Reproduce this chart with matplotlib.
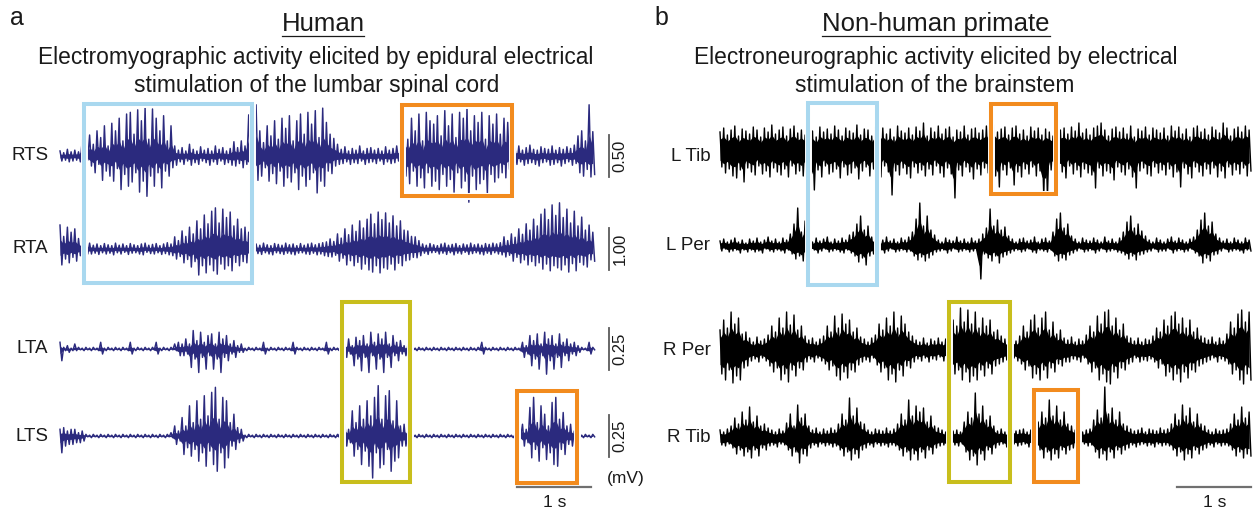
import numpy as np
import matplotlib
matplotlib.use("Agg")
import matplotlib.pyplot as plt
import matplotlib.patheffects as pe
from matplotlib.patches import Rectangle
from matplotlib.lines import Line2D

plt.rcParams['font.family'] = ['Liberation Sans', 'DejaVu Sans']
plt.rcParams['text.color'] = '#1a1a1a'

W, H = 1253, 512
DT = 0.05  # s between samples

# ---------------- a: human EMG (mV), one up/down pair per sample ----------------
rts_up = [.06, .04, .08, .05, .07, .05, .19, .05,
          .25, .14, .30, .22, .36, .12, .39, .30, .45, .18, .50, .52, .26, .55, .42, .58, .20, .56, .45, .30, .48, .18, .36,
          .12, .07, .10, .06, .14, .08, .06, .11, .07, .09, .06, .12, .08, .10, .06, .09,
          .17, .10, .18, .12, .49, .06, .61,
          .30, .16, .36, .24, .42, .20, .45, .33, .48, .18, .42, .50, .26, .52, .38, .54, .22, .57, .40, .26, .21, .14,
          .08, .11, .06, .09, .07, .12, .06, .09, .10, .07, .09, .06, .11, .07, .09, .12, .07,
          .36, .20, .45, .30, .50, .18, .52, .42, .38, .48, .24, .54, .36, .50, .22, .52, .45, .57, .30, .48, .40, .52, .20, .48, .38, .50, .26, .45, .40, .24,
          .09, .12, .07, .10, .13, .08, .07, .11, .09, .08, .12, .07, .10, .08, .11, .09, .13,
          .24, .30, .18, .61, .29]
rts_dn = [.06, .05, .07, .06, .05, .07, .10, .05,
          .12, .20, .10, .29, .18, .24, .30, .15, .40, .22, .36, .31, .20, .43, .30, .48, .24, .36, .20, .38, .18, .24, .14,
          .11, .07, .10, .06, .11, .08, .10, .06, .08, .11, .07, .10, .06, .10, .08, .11,
          .12, .09, .14, .10, .19, .06, .29,
          .24, .14, .30, .21, .33, .18, .36, .26, .31, .20, .40, .24, .36, .28, .20, .44, .30, .36, .18, .21, .12, .10,
          .09, .07, .10, .08, .09, .06, .10, .08, .07, .09, .06, .10, .07, .09, .08, .06, .09,
          .24, .33, .18, .36, .26, .38, .20, .36, .30, .40, .22, .36, .28, .43, .20, .38, .30, .55, .24, .40, .33, .28, .44, .22, .31, .26, .20, .26, .16, .12,
          .10, .07, .11, .09, .08, .10, .12, .08, .07, .11, .10, .08, .12, .09, .07, .11, .09,
          .20, .24, .16, .25, .22]

rta_up = [.57, .30, .52, .40, .48, .25, .20, .12,
          .14, .09, .12, .08, .13, .10, .08, .14, .09, .12, .08, .13, .10, .08, .12, .14, .09, .11, .13, .08, .12, .15, .12,
          .29, .20, .43, .30, .52, .36, .67, .48, .81, .60, .90, .98, .62, .95, .75, .88, .55, .71, .48, .52, .40,
          .12,
          .12, .09, .14, .10, .08, .13, .11, .09, .14, .10, .12, .08, .13, .09, .12, .14, .10, .13, .15, .17,
          .24, .18, .36, .26, .48, .34, .57, .42, .67, .50, .71, .83, .60, .88, .70, .86, .62, .79, .55, .67, .45, .43, .30, .29, .20,
          .12, .09, .13, .10, .08, .12, .14, .09, .11, .13, .08, .12, .10, .14, .10, .12, .09, .13, .11, .14, .12, .15,
          .29, .20, .36, .28, .48, .35, .60, .45, .71, .55, .83, .95, .70, 1.05, .80, 1.10, .75, .95, .62, .90, .55, .76, .45, .57, .40]
rta_dn = [.38, .24, .33, .20, .29, .16, .14, .12,
          .12, .10, .13, .09, .12, .10, .14, .09, .12, .08, .13, .10, .09, .12, .14, .08, .11, .12, .09, .13, .11, .14, .16,
          .24, .18, .33, .25, .43, .30, .62, .40, .57, .38, .52, .60, .36, .48, .40, .52, .32, .40, .30, .33, .22,
          .12,
          .11, .13, .09, .12, .14, .09, .11, .13, .10, .12, .14, .10, .09, .12, .13, .10, .14, .12, .16, .18,
          .19, .15, .29, .22, .38, .28, .40, .32, .48, .36, .50, .55, .40, .57, .45, .48, .36, .50, .34, .40, .28, .26, .20, .21, .16,
          .10, .13, .09, .08, .12, .10, .13, .09, .14, .10, .12, .08, .13, .11, .09, .12, .14, .10, .13, .09, .12, .14,
          .19, .15, .29, .20, .33, .26, .38, .30, .40, .33, .48, .36, .52, .40, .45, .50, .38, .55, .35, .52, .32, .38, .43, .26, .29]

lta_up = [.04, .01, .02, .005, .03, .01, .005, .01, .005, .01, .005, .04, .005, .01, .005, .01, .005, .01, .005, .04, .005, .01, .005, .01, .005, .01, .04, .005, .01, .005, .01, .03, .04,
          .03, .06, .03, .11, .05, .10, .04, .08, .09, .03, .10, .06, .08, .03, .05, .02, .03,
          .005, .01, .005, .01, .005, .04, .005, .01, .005, .01, .005, .01, .005, .04, .01, .005, .01, .005, .01, .005, .01, .005, .04, .005, .01, .005, .06,
          .03, .06, .02, .07, .05, .08, .03, .10, .04, .09, .06, .10, .03, .08, .04, .05, .02, .02,
          .01, .005, .01, .005, .01, .005, .01, .005, .01, .005, .01, .005, .01, .005, .01, .005, .01, .005, .01, .04, .01, .005, .01, .005, .01, .005, .01, .005, .01, .005,
          .04, .02, .08, .05, .09, .03, .10, .06, .08, .03, .09, .04, .06, .03, .04, .02,
          .01, .005, .04, .01]
lta_dn = [.07, .01, .02, .01, .01, .005, .01, .005, .01, .005, .01, .03, .01, .005, .01, .005, .01, .005, .01, .03, .01, .005, .01, .005, .01, .005, .03, .01, .005, .01, .005, .01, .04,
          .04, .03, .11, .06, .14, .05, .12, .04, .12, .06, .14, .05, .07, .03, .05, .02, .02,
          .01, .005, .01, .005, .01, .03, .01, .005, .01, .005, .01, .005, .01, .03, .005, .01, .005, .01, .005, .01, .005, .01, .03, .01, .005, .01, .05,
          .05, .03, .10, .06, .13, .05, .14, .04, .12, .06, .14, .05, .11, .04, .07, .03, .04, .02,
          .005, .01, .005, .01, .005, .01, .005, .01, .005, .01, .005, .01, .005, .01, .005, .01, .005, .01, .005, .03, .005, .01, .005, .01, .005, .01, .005, .01, .005, .01,
          .05, .03, .10, .06, .12, .04, .15, .07, .12, .05, .11, .04, .07, .03, .04, .02,
          .005, .01, .03, .005]

lts_up = [.04, .05, .03, .04, .04, .02, .03,
          .01, .005, .01, .005, .01, .005, .01, .005, .01, .005, .01, .005, .01, .005, .01, .005, .01, .005, .01, .005, .01, .005, .01, .02,
          .06, .03, .11, .06, .18, .08, .21, .10, .24, .12, .26, .29, .10, .23, .21, .08, .13, .05, .04,
          .005, .01, .005, .01, .005, .01, .005, .01, .005, .01, .005, .01, .005, .01, .005, .01, .005, .01, .005, .01, .005, .01, .005, .01, .005, .01,
          .11,
          .07, .04, .15, .08, .18, .10, .21, .12, .23, .30, .10, .24, .27, .09, .21, .06, .07, .03,
          .01, .005, .01, .005, .01, .005, .01, .005, .01, .005, .01, .005, .01, .005, .01, .005, .01, .005, .01, .005, .01, .005, .01, .005, .01, .005, .01, .005, .01, .02,
          .07, .04, .17, .23, .08, .18, .13, .06, .20, .23, .10, .14, .06, .07, .03,
          .01, .005, .01, .005, .01]
lts_dn = [.10, .06, .05, .05, .04, .04, .03,
          .005, .01, .005, .01, .005, .01, .005, .01, .005, .01, .005, .01, .005, .01, .005, .01, .005, .01, .005, .01, .005, .01, .005, .01,
          .05, .03, .11, .07, .12, .08, .15, .10, .18, .09, .17, .21, .10, .19, .13, .06, .08, .04, .03,
          .01, .005, .01, .005, .01, .005, .01, .005, .01, .005, .01, .005, .01, .005, .01, .005, .01, .005, .01, .005, .01, .005, .01, .005, .01, .005,
          .05,
          .06, .04, .12, .08, .17, .09, .18, .25, .10, .19, .17, .08, .21, .15, .13, .06, .06, .03,
          .005, .01, .005, .01, .005, .01, .005, .01, .005, .01, .005, .01, .005, .01, .005, .01, .005, .01, .005, .01, .005, .01, .005, .01, .005, .01, .005, .01, .005, .01,
          .06, .04, .13, .08, .15, .07, .14, .10, .17, .18, .08, .11, .05, .06, .03,
          .005, .01, .005, .01, .005]

human_names = ['RTS', 'RTA', 'LTA', 'LTS']
human_bars = [0.50, 1.00, 0.25, 0.25]   # mV per scale bar
human_up = [rts_up, rta_up, lta_up, lts_up]
human_dn = [rts_dn, rta_dn, lta_dn, lts_dn]

# ---------------- b: non-human primate ENG (a.u.) ----------------
ltib_up = [18, 22, 15, 20, 24, 14, 21, 19, 16, 23, 20, 13, 22, 18, 25, 16, 20, 23, 14, 21,
           24, 17, 20, 15, 22, 19, 13, 23, 18, 21, 16, 24, 20, 14, 22, 19, 17, 25, 15, 21,
           20, 14, 23, 18, 22, 16, 21, 13, 24, 19, 17, 22, 15, 23, 19, 27, 14, 22, 18, 24,
           16, 21, 23, 13, 20, 18, 24, 15, 21, 22, 17, 20, 24, 14, 25, 18, 21, 23, 15, 22,
           24, 16, 20, 14, 23, 19, 22, 15, 21, 18, 14, 24, 20, 22, 16, 23, 19, 27, 17, 21,
           15, 22, 24, 27, 20, 14, 21, 23, 18, 22, 16, 24, 13, 21, 19, 23, 15, 22, 20, 17,
           22, 14, 24, 19, 23, 16, 21, 13, 22, 24, 18, 21, 15, 23, 20, 17, 27, 22, 14, 21,
           23, 18, 24, 20]
ltib_dn = [17, 23, 19, 26, 28, 20, 32, 18, 22, 25, 16, 24, 21, 27, 18, 22, 25, 19, 27, 16,
           24, 21, 26, 18, 23, 40, 20, 27, 16, 24, 22, 19, 28, 17, 25, 23, 18, 29, 21, 17,
           26, 19, 24, 27, 16, 22, 45, 21, 25, 18, 24, 28, 17, 23, 20, 26, 19, 25, 16, 23,
           27, 18, 24, 48, 20, 26, 17, 22, 29, 19, 25, 18, 23, 16, 26, 37, 20, 25, 18, 35,
           22, 27, 19, 24, 17, 26, 21, 45, 47, 20, 18, 25, 22, 28, 16, 24, 20, 27, 19, 23,
           25, 38, 18, 26, 21, 23, 30, 17, 22, 25, 19, 27, 38, 21, 18, 24, 26, 17, 23, 20,
           25, 19, 27, 22, 37, 18, 24, 28, 17, 22, 26, 19, 24, 18, 27, 21, 28, 17, 25, 20,
           24, 18, 26, 21]

lper_up = [5, 7, 4, 6, 8, 4, 6, 3, 7, 5, 8, 4, 6, 9, 5, 7, 4, 8, 6, 12,
           22, 38, 14, 25, 6, 4, 8, 5, 7, 9, 4, 7, 5, 8, 6, 11, 14, 22, 30, 16,
           20, 9, 7, 4, 6, 9, 5, 7, 4, 8, 6, 9, 14, 27, 43, 20, 30, 16, 11, 6,
           4, 8, 6, 5, 9, 5, 7, 4, 8, 5, 7, 12, 18, 37, 20, 26, 16, 19, 10, 7,
           4, 7, 8, 5, 6, 9, 4, 7, 8, 5, 14, 27, 33, 18, 22, 10, 7, 4, 8, 6,
           5, 8, 6, 4, 9, 5, 7, 4, 8, 14, 24, 30, 18, 22, 15, 10, 6, 4, 8, 6,
           4, 7, 9, 5, 8, 6, 4, 7, 9, 16, 26, 33, 20, 24, 12, 8, 5, 7, 4, 8,
           6, 4, 8, 6]
lper_dn = [5, 3, 6, 5, 4, 7, 4, 6, 4, 6, 5, 7, 3, 5, 6, 4, 5, 7, 4, 8,
           13, 10, 15, 8, 5, 4, 7, 5, 3, 6, 5, 4, 6, 7, 4, 7, 10, 16, 12, 19,
           10, 8, 5, 4, 7, 5, 3, 6, 5, 4, 6, 5, 10, 14, 11, 15, 12, 9, 6, 5,
           4, 7, 5, 3, 6, 5, 4, 6, 5, 4, 33, 8, 12, 15, 10, 17, 11, 9, 7, 5,
           4, 6, 5, 3, 6, 7, 4, 5, 6, 4, 10, 15, 12, 14, 9, 7, 5, 3, 6, 5,
           4, 7, 5, 3, 6, 5, 4, 6, 7, 9, 13, 10, 14, 9, 8, 6, 5, 3, 6, 5,
           5, 3, 7, 5, 4, 6, 5, 3, 7, 10, 17, 12, 15, 9, 8, 5, 3, 6, 5, 4,
           5, 7, 4, 5]

rper_up = [20, 30, 22, 38, 26, 32, 16, 18, 12, 8, 13, 9, 11,
           15, 24, 18, 32, 22, 38, 25, 35, 20, 24, 14, 10, 12, 8, 11,
           14, 24, 18, 34, 22, 36, 26, 30, 18, 22, 13, 11, 8, 12,
           15, 26, 20, 32, 24, 38, 22, 34, 26, 18, 14, 10, 8, 12, 7, 11, 9, 12, 8, 11,
           18, 30, 24, 42, 28, 40, 26, 38, 22, 32, 24, 30, 18, 20, 14, 11, 8, 12, 9,
           14, 24, 18, 30, 35, 22, 32, 38, 20, 28, 16, 20, 12, 10, 13, 8, 11, 9,
           15, 24, 18, 34, 26, 38, 40, 24, 32, 20, 26, 14, 12, 9, 12, 8, 11, 10,
           14, 22, 18, 30, 24, 34, 38, 26, 32, 22, 30, 18, 22, 14, 12, 10, 13, 8, 12, 9,
           16, 28, 22, 36, 40, 28, 38]
rper_dn = [24, 30, 20, 33, 26, 30, 18, 16, 11, 9, 12, 8, 11,
           16, 22, 18, 30, 24, 32, 20, 26, 18, 20, 12, 9, 12, 8, 11,
           14, 20, 16, 26, 30, 22, 28, 20, 22, 15, 12, 10, 12, 8,
           15, 22, 18, 30, 24, 32, 20, 26, 16, 18, 12, 9, 11, 8, 12, 9, 10, 7, 11, 9,
           16, 24, 20, 30, 22, 32, 26, 30, 20, 26, 18, 24, 16, 14, 12, 10, 12, 8, 11,
           14, 20, 16, 28, 24, 30, 20, 28, 18, 22, 14, 16, 12, 12, 9, 10, 12, 8,
           14, 22, 18, 30, 24, 32, 34, 22, 28, 18, 20, 14, 12, 8, 12, 10, 11, 9,
           12, 18, 14, 26, 22, 30, 24, 32, 22, 28, 20, 22, 16, 14, 12, 10, 8, 12, 9, 11,
           14, 24, 20, 30, 34, 24, 30]

rtib_up = [8, 6, 9, 12, 20, 14, 26, 18, 31, 16, 22, 12, 14, 10, 8, 6, 9, 7,
           15, 24, 12, 33, 20, 24, 12, 8, 10, 6, 9, 7, 10, 8,
           14, 24, 18, 40, 22, 30, 16, 14, 8, 6, 9, 8, 7, 10, 7, 9,
           14, 24, 18, 38, 22, 32, 26, 30, 16, 22, 12, 10, 8, 6, 9, 7, 8, 6,
           16, 26, 20, 45, 24, 32, 18, 22, 12, 7, 9, 6, 8, 10, 7, 8, 9, 6, 8, 10,
           16, 26, 20, 38, 22, 32, 18, 26, 14, 12, 8, 10, 6, 8, 9,
           18, 28, 20, 51, 24, 30, 18, 26, 14, 12, 9, 7, 8, 10, 6, 9, 8, 7, 10, 8, 9,
           14, 24, 18, 33, 22, 30, 16, 24, 14, 12, 8, 6, 9, 7, 8, 9,
           14, 24, 18, 31, 20, 26]
rtib_dn = [7, 8, 6, 10, 16, 12, 18, 14, 20, 12, 18, 10, 12, 8, 7, 9, 6, 7,
           12, 18, 14, 25, 16, 18, 10, 7, 9, 6, 8, 7, 9, 8,
           12, 18, 14, 22, 16, 20, 12, 10, 7, 9, 6, 8, 7, 9, 7, 8,
           12, 18, 14, 22, 16, 22, 14, 20, 12, 16, 10, 8, 7, 9, 6, 7, 8, 6,
           14, 22, 18, 27, 16, 22, 12, 16, 10, 7, 6, 9, 7, 6, 8, 7, 6, 9, 7, 8,
           12, 20, 14, 22, 16, 20, 12, 16, 12, 10, 7, 8, 6, 8, 7,
           14, 20, 16, 22, 14, 20, 12, 16, 12, 10, 7, 9, 7, 6, 8, 7, 9, 6, 8, 7, 8,
           12, 18, 14, 22, 16, 20, 12, 16, 12, 10, 7, 9, 6, 8, 7, 8,
           12, 18, 14, 20, 16, 18]

nhp_names = ['L Tib', 'L Per', 'R Per', 'R Tib']
nhp_up = [ltib_up, lper_up, rper_up, rtib_up]
nhp_dn = [ltib_dn, lper_dn, rper_dn, rtib_dn]

# ---------------- layout ----------------
PX_S = 74.0     # pixels per second
PX_U = 42.0     # pixels per vertical unit (one amplitude bar)
human_off = [0.0, -2.214, -4.595, -6.667]
nhp_off = [0.143, -2.143, -4.619, -6.714]
NAVY = '#2b2a7e'
GREY = '#5a5a5a'
BLUE, ORANGE, YELLOW = '#a9d8ef', '#f28b1e', '#c8be1c'


def zigzag(up, dn):
    n = min(len(up), len(dn))
    t = np.arange(n) * DT
    x = np.empty(2 * n)
    y = np.empty(2 * n)
    x[0::2], x[1::2] = t, t + DT / 2
    y[0::2], y[1::2] = np.asarray(up[:n]), -np.asarray(dn[:n])
    return t, x, y


def box(ax, t0, t1, y0, y1, color):
    r = Rectangle((t0, y0), t1 - t0, y1 - y0, fill=False, ec=color, lw=2.9, zorder=5)
    r.set_path_effects([pe.Stroke(linewidth=5, foreground='white'), pe.Normal()])
    ax.add_patch(r)


fig = plt.figure(figsize=(W / 100, H / 100), dpi=100)
fig.patch.set_facecolor('white')

ax_a = fig.add_axes([0, 0, 640 / W, 1])
ax_a.set_xlim(-60 / PX_S, 580 / PX_S)
ax_b = fig.add_axes([640 / W, 0, 613 / W, 1])
ax_b.set_xlim(-80 / PX_S, 533 / PX_S)
for ax in (ax_a, ax_b):
    ax.set_ylim(-(H - 156) / PX_U, 156 / PX_U)
    ax.axis('off')

# human traces with amplitude bars; dense core drawn as a thin fill
for name, bar, up, dn, off in zip(human_names, human_bars, human_up, human_dn, human_off):
    t, x, y = zigzag(up, dn)
    ax_a.fill_between(t, off + 0.4 * np.asarray(up) / bar, off - 0.4 * np.asarray(dn) / bar,
                      color=NAVY, lw=0, zorder=2)
    ax_a.plot(x, off + y / bar, color=NAVY, lw=1.05, zorder=2)
    ax_a.text(-0.16, off, name, ha='right', va='center', fontsize=13.5)
    ax_a.plot([7.42, 7.42], [off - 0.5, off + 0.5], color=GREY, lw=1.3)
    ax_a.text(7.57, off, f'{bar:.2f}', rotation=90, ha='center', va='center', fontsize=12)
ax_a.text(7.65, -7.67, '(mV)', ha='center', va='center', fontsize=12.5)

# primate traces: solid core band plus the raw zigzag
for name, up, dn, off in zip(nhp_names, nhp_up, nhp_dn, nhp_off):
    t, x, y = zigzag(up, dn)
    ax_b.fill_between(t, off + 0.6 * np.asarray(up) / PX_U, off - 0.6 * np.asarray(dn) / PX_U,
                      color='black', lw=0, zorder=2)
    ax_b.plot(x, off + y / PX_U, color='black', lw=1.0, zorder=2)
ax_b.text(-0.13, -0.02, 'L Tib', ha='right', va='center', fontsize=13.5)
ax_b.text(-0.13, -2.14, 'L Per', ha='right', va='center', fontsize=13.5)
ax_b.text(-0.13, -4.62, 'R Per', ha='right', va='center', fontsize=13.5)
ax_b.text(-0.13, -6.71, 'R Tib', ha='right', va='center', fontsize=13.5)

# 1 s time bars
for ax in (ax_a, ax_b):
    ax.plot([6.18, 7.18], [-7.88, -7.88], color='#707070', lw=1.6, zorder=7)
    ax.text(6.68, -8.24, '1 s', ha='center', va='center', fontsize=12.5)

# highlighted windows
box(ax_a, 0.32, 2.59, -3.02, 1.24, BLUE)
box(ax_a, 4.62, 6.11, -0.95, 1.21, ORANGE)
box(ax_a, 3.81, 4.73, -7.76, -3.48, YELLOW)
box(ax_a, 6.18, 6.99, -7.79, -5.60, ORANGE)
box(ax_b, 1.19, 2.12, -3.07, 1.26, BLUE)
box(ax_b, 3.66, 4.54, -0.90, 1.24, ORANGE)
box(ax_b, 3.09, 3.92, -7.76, -3.48, YELLOW)
box(ax_b, 4.24, 4.84, -7.76, -5.57, ORANGE)

# headings
fig.text(10 / W, 1 - 25 / H, 'a', fontsize=18, va='baseline')
fig.text(654 / W, 1 - 25 / H, 'b', fontsize=18, va='baseline')
t_h = fig.text(323 / W, 1 - 31 / H, 'Human', fontsize=18.5, ha='center', va='baseline')
t_n = fig.text(936 / W, 1 - 31 / H, 'Non-human primate', fontsize=18.5, ha='center', va='baseline')
fig.text(316 / W, 1 - 64 / H, 'Electromyographic activity elicited by epidural electrical',
         fontsize=16.4, ha='center', va='baseline')
fig.text(317 / W, 1 - 92 / H, 'stimulation of the lumbar spinal cord',
         fontsize=16.4, ha='center', va='baseline')
fig.text(936 / W, 1 - 64 / H, 'Electroneurographic activity elicited by electrical',
         fontsize=16.4, ha='center', va='baseline')
fig.text(935 / W, 1 - 92 / H, 'stimulation of the brainstem',
         fontsize=16.4, ha='center', va='baseline')

# underline the two panel titles
fig.canvas.draw()
rend = fig.canvas.get_renderer()
for txt in (t_h, t_n):
    bb = txt.get_window_extent(rend)
    fig.add_artist(Line2D([bb.x0 / W, bb.x1 / W], [1 - 36 / H, 1 - 36 / H],
                          transform=fig.transFigure, color='#1a1a1a', lw=0.9))

fig.savefig('out.png', dpi=100)
